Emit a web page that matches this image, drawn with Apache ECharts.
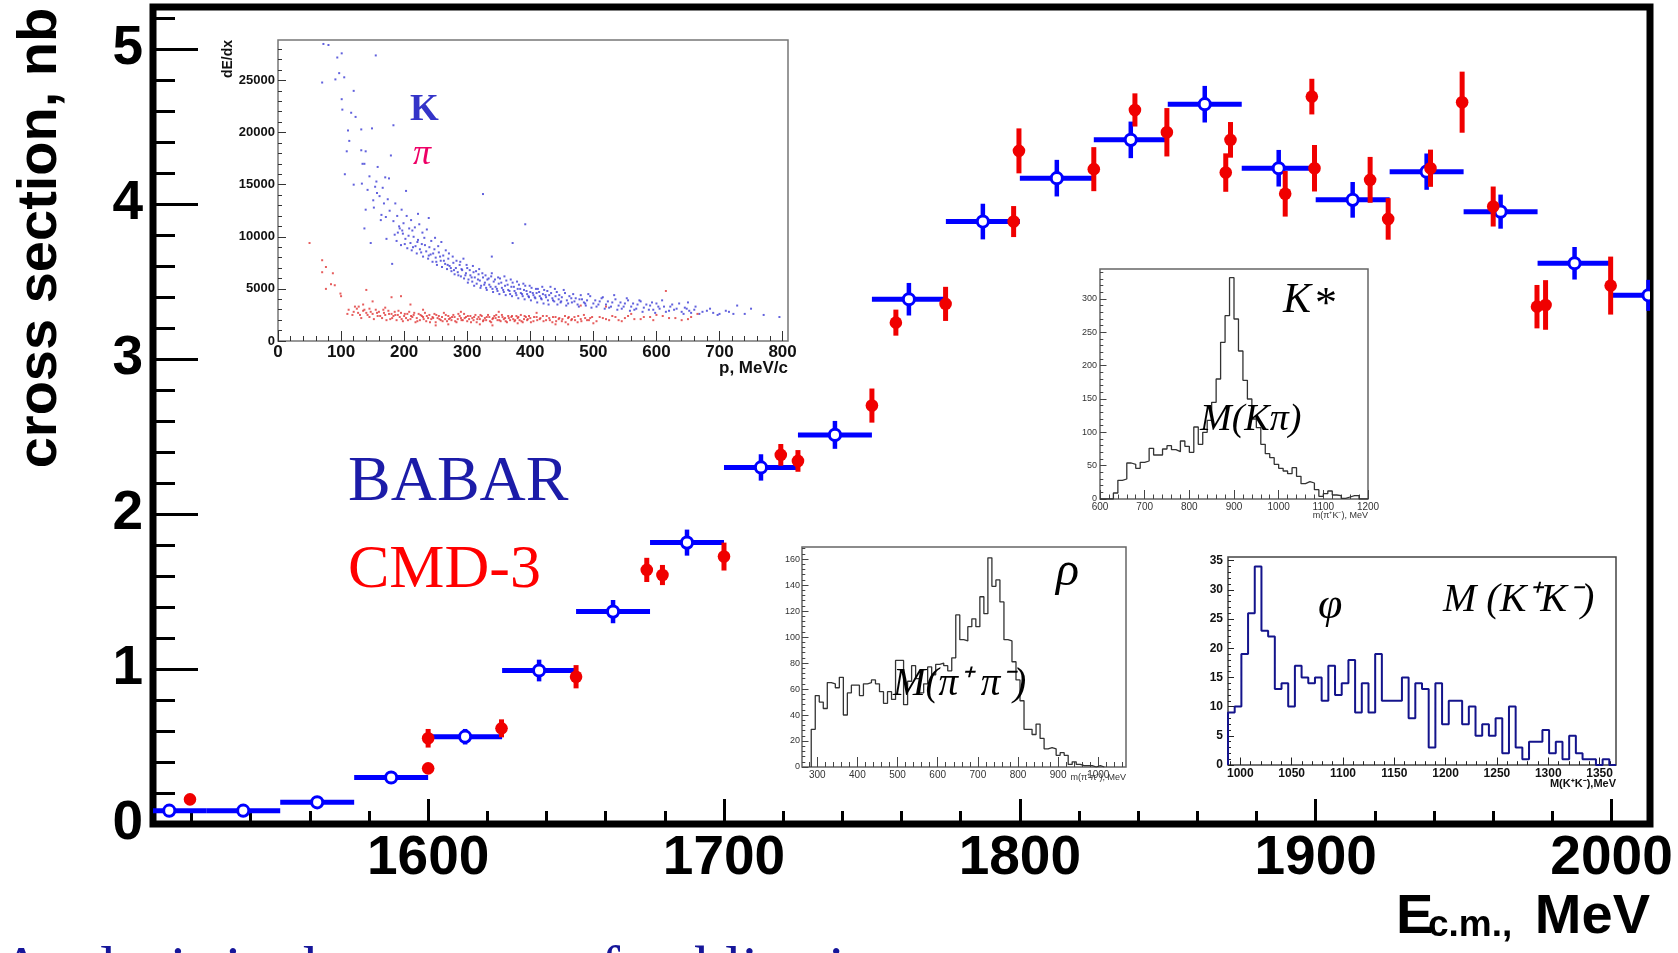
<!DOCTYPE html>
<html><head><meta charset="utf-8">
<script src="https://cdn.jsdelivr.net/npm/echarts@6/dist/echarts.min.js"></script>
<style>html,body{margin:0;padding:0;background:#fff}#c{width:1678px;height:953px}</style>
</head><body><div id="c"></div>
<script>
// ---------------- main chart data ----------------
const babarE     = [1512.5,1537.5,1562.5,1587.5,1612.5,1637.5,1662.5,1687.5,1712.5,1737.5,1762.5,1787.5,1812.5,1837.5,1862.5,1887.5,1912.5,1937.5,1962.5,1987.5,2012.5];
const babarSigma = [0.086,0.086,0.14,0.30,0.563,0.99,1.37,1.815,2.30,2.51,3.385,3.886,4.166,4.413,4.643,4.23,4.026,4.208,3.95,3.617,3.41];
const babarErr   = [0.02,0.02,0.03,0.04,0.05,0.07,0.075,0.084,0.085,0.09,0.105,0.115,0.118,0.118,0.118,0.118,0.115,0.117,0.11,0.105,0.10];
const babarHalfBin = 12.5;

const cmdE     = [1519.5,1600,1600,1624.8,1650,1673.9,1679.2,1700,1719.2,1725,1750,1758.1,1774.9,1797.9,1799.7,1825,1838.9,1849.7,1869.6,1871.2,1889.7,1898.7,1899.6,1918.4,1924.5,1938.8,1949.5,1960,1974.8,1977.7,1999.7];
const cmdSigma = [0.159,0.359,0.553,0.617,0.95,1.639,1.606,1.725,2.381,2.342,2.699,3.234,3.355,3.886,4.342,4.224,4.606,4.462,4.202,4.413,4.065,4.692,4.23,4.155,3.903,4.23,4.656,3.983,3.337,3.348,3.473];
const cmdErr   = [0.01,0.02,0.06,0.058,0.075,0.078,0.065,0.09,0.07,0.07,0.11,0.084,0.11,0.10,0.145,0.142,0.107,0.156,0.124,0.115,0.147,0.115,0.15,0.148,0.134,0.12,0.197,0.129,0.14,0.16,0.187];

const mainXTicks = [1600,1700,1800,1900,2000];
const mainYTicks = [0,1,2,3,4,5];

// ---------------- inset: dE/dx vs p ----------------
const dedxKaon = [[72,28500],[80,28400],[94,27200],[101,27600],[155,27400],[70,24800],[91,25100],[97,25700],[105,25300],[120,24000],[101,23200],[102,22200],[116,21900],[123,21500],[111,20200],[113,19200],[132,20300],[149,20400],[183,20700],[109,18200],[132,18300],[139,18200],[179,17800],[134,17000],[137,17000],[106,16000],[158,16700],[120,15000],[133,15100],[145,15800],[170,15700],[176,15600],[203,14400],[142,14500],[154,14800],[157,14200],[151,13500],[168,13200],[139,12600],[163,11600],[137,10800],[147,9400],[172,9800],[181,7400],[190,10400],[197,10600],[213,10600],[222,12200],[239,11800],[325,14100],[392,11200],[372,9400],[339,8100],
[185,10200],[188,9600],[192,11000],[195,9200],[198,10300],[202,9800],[205,8900],[208,10800],[210,9400],[212,8700],[215,10000],[218,9100],[220,8400],[222,9700],[225,8800],[228,9300],[230,8100],[232,9900],[235,8600],[238,7900],[240,9000],[242,8300],[245,7600],[248,8800],[250,8000],[252,7300],[255,8500],[258,7700],[260,7100],[262,8200],[265,7400],[268,6900],[270,7900],[272,7200],[275,6700],[278,7500],[280,6400],[282,7000],[285,6600],[288,7300],[290,6200],[292,6800],[295,6000],[298,6500],[300,7000],[302,5900],[305,6300],[308,5700],[310,6600],[312,6100],[315,5500],[318,6400],[320,5800],[322,5300],[325,6100],[328,5600],[330,5100],[332,5900],[335,5400],[338,6200],[340,5000],[342,5700],[345,5200],[348,4800],[350,5500],[352,6000],[355,5100],[358,4700],[360,5300],[362,5800],[365,4900],[368,4500],[370,5200],[372,5600],[375,4800],[378,4400],[380,5000],[382,5400],[385,4600],[388,4300],[390,4900],[392,5300],[395,4500],[398,4200],[400,4700],[402,5100],[405,4400],[408,4100],[410,4600],[412,5000],[415,4300],[418,4000],[420,4500],[422,4900],[425,4200],[428,3900],[430,4400],[432,5200],[435,4100],[438,3800],[440,4300],[442,4700],[445,4000],[448,3700],[450,4200],[455,4600],[458,3900],[460,3600],[465,4100],[468,4500],[470,3800],[475,3500],[478,4000],[480,4400],[485,3700],[488,3400],[490,3900],[495,4300],[500,3600],[505,3300],[510,3800],[515,4200],[520,3500],[525,3200],[530,3700],[535,4000],[540,3400],[545,3100],[550,3600],[555,3900],[560,3300],[565,3000],[570,3500],[575,3800],[580,3200],[590,3400],[595,3000],[600,3600],[605,3100],[612,3300],[620,2900],[625,3500],[632,3100],[640,2800],[645,3200],[650,3700],[655,2700],[660,3000],[668,2600],[680,2900],[690,2700],[700,2600],[715,2800],[728,3400],[740,2600],[795,2300],
[152,12800],[156,15300],[161,13900],[164,12100],[166,14700],[171,11900],[174,13600],[177,12500],[183,11500],[186,13200],[189,12000],[193,10800],[196,12600],[199,11300],[201,9300],[204,12000],[207,10100],[211,11600],[214,9000],[217,10900],[221,9500],[224,11200],[227,8500],[229,10400],[233,9200],[236,10700],[239,8200],[243,9600],[246,8400],[249,9900],[251,7600],[254,9100],[257,8100],[259,9500],[263,7700],[266,8700],[269,7300],[271,8400],[274,7000],[277,8100],[279,6800],[283,7700],[286,6300],[289,7600],[291,6900],[294,7900],[297,6300],[299,7300],[301,5600],[304,6800],[307,6100],[309,7200],[311,5300],[314,6700],[317,5900],[319,6900],[321,5100],[324,6500],[327,5400],[329,6300],[331,4900],[334,6000],[337,5200],[339,6500],[341,4700],[344,5900],[347,5000],[349,6100],[351,4500],[354,5600],[357,4900],[359,6200],[361,4400],[364,5400],[367,4800],[369,5900],[371,4300],[374,5200],[377,4600],[379,5700],[381,4100],[384,5000],[387,4500],[389,5500],[391,4000],[394,4800],[397,4300],[399,5300],[401,3900],[404,4600],[407,4200],[409,5000],[411,3700],[414,4700],[417,4100],[419,5200],[421,3600],[424,4400],[427,4800],[429,3500],[433,4600],[436,3900],[439,5000],[443,3500],[446,4400],[449,3800],[453,4900],[457,3400],[462,4300],[466,3700],[472,4100],[477,3300],[482,4000],[487,3600],[492,4500],[497,3200],[503,3900],[508,3500],[513,4100],[518,3100],[523,3800],[528,3300],[533,4400],[538,3000],[543,3700],[548,3300],[553,4100],[558,2900],[563,3600],[568,3100],[573,3900],[578,2800],[584,3500],[588,3000],[593,3700],[598,2700],[603,3300],[609,3900],[615,2800],[622,3300],[628,3000],[636,3600],[643,2600],[648,3100],[652,2900],[662,3300],[673,2800],[685,3100],[697,2500],[710,2900],[722,2600],[750,3100],[770,2500]];
const dedxPion = [[50,9400],[70,7750],[70,6600],[76,7100],[87,6500],[76,5000],[84,5450],[90,5350],[99,4550],[100,4300],[110,2600],[128,3300],[135,3500],[140,4900],[145,3100],[150,3800],[170,3200],[180,4200],[195,4300],[210,3500],[615,4800],[480,3400],[520,3300],
[120,2800],[125,3100],[130,2500],[135,2900],[140,2700],[145,2300],[150,2600],[155,3000],[158,2400],[160,2800],[165,2200],[168,2700],[170,2500],[175,2900],[178,2100],[180,2600],[183,2400],[185,2800],[188,2000],[190,2500],[193,2300],[195,2700],[198,1900],[200,2400],[203,2200],[205,2600],[208,2800],[210,2100],[213,2300],[215,2500],[218,1800],[220,2200],[223,2600],[225,2000],[228,2400],[230,2300],[233,2700],[235,1900],[238,2200],[240,2500],[243,2100],[245,2300],[248,2600],[250,1800],[253,2200],[255,2400],[258,2000],[260,2300],[263,2700],[265,2100],[268,1900],[270,2400],[273,2200],[275,2000],[278,2500],[280,2300],[283,1800],[285,2100],[288,2400],[290,2200],[293,2000],[295,2600],[298,2300],[300,1900],[303,2100],[305,2400],[308,2200],[310,2000],[313,2500],[315,1800],[318,2300],[320,2100],[323,2400],[325,1900],[328,2200],[330,2000],[333,2500],[335,2300],[338,1800],[340,2100],[343,2400],[345,2200],[348,2000],[350,2300],[353,1900],[355,2500],[358,2100],[360,2200],[363,1800],[365,2400],[368,2000],[370,2300],[373,2100],[375,1900],[378,2400],[380,2200],[383,2000],[385,2500],[388,1800],[390,2100],[393,2300],[395,2000],[398,2400],[400,2200],[405,1900],[410,2300],[415,2100],[420,2400],[425,2000],[430,2200],[435,1800],[440,2300],[445,2100],[450,1900],[455,2400],[460,2200],[465,2000],[470,2300],[475,1800],[480,2100],[485,2500],[490,2000],[495,2200],[500,1700],[510,2300],[520,2100],[530,2400],[540,2000],[550,2200],[560,2600],[575,2100],[590,2300],[600,2500],[620,2200],[640,2000],[655,2300],[665,2600],
[112,3000],[118,2500],[122,3300],[127,2700],[132,2200],[137,3000],[142,2500],[147,2800],[152,2100],[157,2700],[162,2400],[167,3000],[172,2000],[176,2600],[181,2200],[186,2500],[191,2900],[196,2100],[201,2600],[206,2000],[211,2400],[216,2700],[221,1900],[226,2500],[231,2100],[236,2400],[241,1800],[246,2200],[251,2500],[256,2100],[261,1900],[266,2500],[271,2100],[276,2300],[281,1900],[286,2600],[291,2000],[296,2200],[301,2400],[306,1800],[311,2300],[316,2100],[321,2500],[326,2000],[331,2300],[336,1900],[341,2200],[346,2500],[351,2000],[356,2300],[361,1900],[366,2200],[371,2400],[376,2000],[381,2300],[386,1900],[391,2400],[396,2100],[401,1800],[406,2300],[411,2000],[416,2200],[421,1900],[426,2400],[431,2000],[436,2300],[441,1900],[446,2200],[451,2100],[456,1800],[461,2300],[466,2100],[471,2000],[476,2400],[481,1900],[487,2200],[493,2000],[498,2300],[505,1900],[515,2200],[525,2000],[535,2300],[545,1900],[555,2400],[565,2100],[580,2300],[595,2000],[610,2400],[630,2200],[650,2100],[270,1600],[320,1600],[380,1700],[440,1600],[230,3000],[290,2800],[350,2800],[410,2700],[250,1500],[340,1500],[460,1600]];
const dedxXTicks = [0,100,200,300,400,500,600,700,800];
const dedxYTicks = [0,5000,10000,15000,20000,25000];

// ---------------- inset: K* (m(pi K)) ----------------
const kstarStart = 600, kstarBin = 10;
const kstarCounts = [0,0,0,9,28,30,54,52,46,55, 57,76,66,66,75,80,74,71,87,79, 70,108,82,100,118,145,180,235,275,332, 270,222,178,150,120,107,82,68,62,52, 46,42,38,47,34,23,26,24,14,4, 8,12,6,5,1,3,5,5,0,0];
const kstarXTicks = [600,700,800,900,1000,1100,1200];
const kstarYTicks = [0,50,100,150,200,250,300];

// ---------------- inset: rho (m(pi+ pi-)) ----------------
const rhoStart = 285, rhoBin = 10;
const rhoCounts = [29,55,50,45,65,64,61,69,40,57, 63,63,55,64,65,67,64,58,49,58, 52,82,82,48,66,78,68,57,64,77, 71,79,80,78,74,84,117,98,97,108, 114,108,131,118,161,139,144,127,98,97, 81,67,51,29,29,25,33,22,14,15, 14,9,11,9,2,4,2,1,1,1, 0,1,0];
const rhoXTicks = [300,400,500,600,700,800,900,1000];
const rhoYTicks = [0,20,40,60,80,100,120,140,160];

// ---------------- inset: phi (M(K+K-)) ----------------
const phiStart = 988, phiEnd = 1366;
const phiCounts = [9,10,19,26,34,23,22,13,14,10, 17,15,14,15,11,17,12,14,18,9, 14,9,19,11,11,11,15,8,14,13, 3,14,7,11,11,7,10,5,7,5, 8,2,10,3,1,4,4,6,2,4, 1,5,2,1,1,0,1,0];
const phiXTicks = [1000,1050,1100,1150,1200,1250,1300,1350];
const phiYTicks = [0,5,10,15,20,25,30,35];

// ---------------- helpers ----------------
function range(a, b, s) { const r = []; for (let v = a; v <= b + 1e-9; v += s) r.push(Math.round(v * 1000) / 1000); return r; }
function minors(a, b, s, majors) { return range(a, b, s).filter(v => !majors.some(m => Math.abs(m - v) < 1e-6)); }
function stepLine(start, width, counts) {
  const pts = [[start, 0]];
  counts.forEach((c, i) => { pts.push([start + i * width, c]); pts.push([start + (i + 1) * width, c]); });
  pts.push([start + counts.length * width, 0]);
  return pts;
}
const fmt = v => String(v);
function axis(kind, grid, min, max, ticks, len, color, width, label) {
  return {
    type: 'value', gridIndex: grid, min: min, max: max,
    position: kind === 'x' ? 'bottom' : 'left', offset: 0,
    axisLine: { show: false }, splitLine: { show: false }, minorTick: { show: false }, splitArea: { show: false },
    axisTick: { show: true, inside: true, length: len, customValues: ticks, lineStyle: { color: color, width: width } },
    axisLabel: label ? Object.assign({ show: true, customValues: ticks, formatter: fmt }, label) : { show: false },
    axisPointer: { show: false }, silent: true
  };
}
const SANS = '"Liberation Sans", Arial, sans-serif';
const SERIF = '"Liberation Serif", "Times New Roman", serif';

const mainLabel = { fontSize: 55, fontWeight: 'bold', fontFamily: SANS, color: '#000' };

const xAxes = [
  axis('x', 0, 1507, 2013, mainXTicks, 25, '#000', 3, Object.assign({ margin: 7 }, mainLabel)),
  axis('x', 0, 1507, 2013, minors(1520, 2000, 20, mainXTicks), 13, '#000', 3, null),
  axis('x', 1, 0, 808.6, dedxXTicks, 10, '#333', 1, { margin: 3, fontSize: 17, fontWeight: 'bold', fontFamily: SANS, color: '#111' }),
  axis('x', 1, 0, 808.6, minors(0, 800, 20, dedxXTicks), 5, '#333', 1, null),
  axis('x', 2, 600, 1200, kstarXTicks, 9, '#444', 1, { margin: 3, fontSize: 10, fontFamily: SANS, color: '#333' }),
  axis('x', 2, 600, 1200, minors(600, 1200, 20, kstarXTicks), 4.5, '#444', 1, null),
  axis('x', 3, 262, 1069, rhoXTicks, 10, '#444', 1, { margin: 3, fontSize: 10, fontFamily: SANS, color: '#333' }),
  axis('x', 3, 262, 1069, minors(280, 1060, 20, rhoXTicks), 5, '#444', 1, null),
  axis('x', 4, phiStart, phiEnd, phiXTicks, 7.5, '#222', 1, { margin: 3, fontSize: 12, fontWeight: 'bold', fontFamily: SANS, color: '#111' }),
  axis('x', 4, phiStart, phiEnd, minors(990, 1360, 10, phiXTicks), 3.8, '#222', 1, null)
];
const yAxes = [
  axis('y', 0, 0, 5.27, mainYTicks, 45, '#000', 3, Object.assign({ margin: 10 }, mainLabel)),
  axis('y', 0, 0, 5.27, minors(0, 5.2, 0.2, mainYTicks), 22, '#000', 3, null),
  axis('y', 1, 0, 28880, dedxYTicks, 8, '#333', 1, { margin: 3, fontSize: 13, fontWeight: 'bold', fontFamily: SANS, color: '#111' }),
  axis('y', 1, 0, 28880, minors(0, 28000, 1000, dedxYTicks), 4, '#333', 1, null),
  axis('y', 2, 0, 345, kstarYTicks, 6.5, '#444', 1, { margin: 3, fontSize: 9, fontFamily: SANS, color: '#333' }),
  axis('y', 2, 0, 345, minors(0, 340, 10, kstarYTicks), 3.3, '#444', 1, null),
  axis('y', 3, 0, 169.3, rhoYTicks, 6.5, '#444', 1, { margin: 2, fontSize: 9, fontFamily: SANS, color: '#333' }),
  axis('y', 3, 0, 169.3, minors(0, 168, 4, rhoYTicks), 3.3, '#444', 1, null),
  axis('y', 4, 0, 35.63, phiYTicks, 6, '#222', 1, { margin: 5, fontSize: 12, fontWeight: 'bold', fontFamily: SANS, color: '#111' }),
  axis('y', 4, 0, 35.63, minors(0, 35, 1, phiYTicks), 3, '#222', 1, null)
];

const BLUE = '#0000ff', RED = '#f00000';

function babarRender(params, api) {
  const x = api.value(0), y = api.value(1), e = api.value(2);
  const c = api.coord([x, y]);
  const l = api.coord([x - babarHalfBin, y]), r = api.coord([x + babarHalfBin, y]);
  const t = api.coord([x, y + e]), b = api.coord([x, y - e]);
  return { type: 'group', children: [
    { type: 'line', shape: { x1: l[0], y1: c[1], x2: r[0], y2: c[1] }, style: { stroke: BLUE, lineWidth: 5 } },
    { type: 'line', shape: { x1: c[0], y1: t[1], x2: c[0], y2: b[1] }, style: { stroke: BLUE, lineWidth: 4.5 } },
    { type: 'circle', shape: { cx: c[0], cy: c[1], r: 5.6 }, style: { fill: '#fff', stroke: BLUE, lineWidth: 3 } }
  ] };
}
function cmdRender(params, api) {
  const x = api.value(0), y = api.value(1), e = api.value(2);
  const c = api.coord([x, y]);
  const t = api.coord([x, y + e]), b = api.coord([x, y - e]);
  return { type: 'group', children: [
    { type: 'line', shape: { x1: c[0], y1: t[1], x2: c[0], y2: b[1] }, style: { stroke: RED, lineWidth: 5 } },
    { type: 'circle', shape: { cx: c[0], cy: c[1], r: 6.3 }, style: { fill: RED, stroke: null } }
  ] };
}

function T(text, x, y, font, fill, align, rot) {
  return { type: 'text', x: x, y: y, rotation: rot || 0, silent: true, z: 100,
    style: { text: text, font: font, fill: fill, align: align || 'left', verticalAlign: 'middle' } };
}

const graphics = [
  T('cross section, nb', 41, 238, 'bold 56px ' + SANS, '#000', 'center', Math.PI / 2),
  T('E', 1396, 917.6, 'bold 56px ' + SANS, '#000', 'left'),
  T('c.m.,', 1428, 926, 'bold 37px ' + SANS, '#000', 'left'),
  T('MeV', 1650, 917.6, 'bold 56px ' + SANS, '#000', 'right'),
  T('BABAR', 348, 483.4, '64px ' + SERIF, '#1c1ca8', 'left'),
  T('CMD-3', 348, 571, '62px ' + SERIF, '#ff0000', 'left'),
  T('K', 410, 110, 'bold 37px ' + SERIF, '#3434c8', 'left'),
  T('\u03c0', 413, 154.5, 'italic 36px ' + SERIF, '#ee0066', 'left'),
  T('dE/dx', 228, 40, 'bold 14px ' + SANS, '#111', 'right', Math.PI / 2),
  T('p, MeV/c', 788, 368.5, 'bold 17px ' + SANS, '#111', 'right'),
  T('K', 1283, 300.8, 'italic 42px ' + SERIF, '#000', 'left'),
  T('*', 1315, 305, '44px ' + SERIF, '#000', 'left'),
  T('M(K\u03c0)', 1200, 420.2, 'italic 38px ' + SERIF, '#000', 'left'),
  T('m(\u03c0\u207aK\u207b), MeV', 1368, 516, '9px ' + SANS, '#333', 'right'),
  T('\u03c1', 1056, 572.8, 'italic 48px ' + SERIF, '#000', 'left'),
  T('M(\u03c0\u207a \u03c0\u207b)', 893, 684.8, 'italic 39px ' + SERIF, '#000', 'left'),
  T('m(\u03c0\u207a\u03c0\u207b), MeV', 1126, 778, '9px ' + SANS, '#333', 'right'),
  T('\u03c6', 1318, 606, 'italic 44px ' + SERIF, '#000', 'left'),
  T('M (K\u207aK\u207b)', 1443, 600.5, 'italic 40px ' + SERIF, '#000', 'left'),
  T('M(K\u207aK\u207b),MeV', 1616, 783.5, 'bold 11px ' + SANS, '#111', 'right'),
  T('Analysis in the process of publication', 0, 971, '60px ' + SERIF, '#16169a', 'left')
];

const option = {
  animation: false,
  backgroundColor: '#fff',
  grid: [
    { left: 153, right: 28, top: 7, bottom: 129, show: true, borderColor: '#000', borderWidth: 7, backgroundColor: 'transparent', containLabel: false },
    { left: 278, top: 40, width: 510, height: 301, show: true, borderColor: '#777', borderWidth: 1.5, backgroundColor: '#fff' },
    { left: 1100, top: 269, width: 268, height: 230, show: true, borderColor: '#666', borderWidth: 1.5, backgroundColor: '#fff' },
    { left: 802, top: 547, width: 324, height: 220, show: true, borderColor: '#666', borderWidth: 1.5, backgroundColor: '#fff' },
    { left: 1228, top: 557, width: 388, height: 208, show: true, borderColor: '#444', borderWidth: 1.5, backgroundColor: '#fff' }
  ],
  xAxis: xAxes,
  yAxis: yAxes,
  series: [
    { type: 'custom', name: 'BABAR', xAxisIndex: 0, yAxisIndex: 0, clip: true, silent: true, z: 5,
      renderItem: babarRender, data: babarE.map((e, i) => [e, babarSigma[i], babarErr[i]]) },
    { type: 'custom', name: 'CMD-3', xAxisIndex: 0, yAxisIndex: 0, clip: true, silent: true, z: 6,
      renderItem: cmdRender, data: cmdE.map((e, i) => [e, cmdSigma[i], cmdErr[i]]) },
    { type: 'scatter', xAxisIndex: 2, yAxisIndex: 2, symbol: 'rect', symbolSize: 2, silent: true, large: false,
      itemStyle: { color: '#3a3ad4' }, data: dedxKaon },
    { type: 'scatter', xAxisIndex: 2, yAxisIndex: 2, symbol: 'rect', symbolSize: 2, silent: true, large: false,
      itemStyle: { color: '#e03434' }, data: dedxPion },
    { type: 'line', xAxisIndex: 4, yAxisIndex: 4, showSymbol: false, symbol: 'none', silent: true,
      lineStyle: { color: '#333', width: 1.3 }, data: stepLine(kstarStart, kstarBin, kstarCounts) },
    { type: 'line', xAxisIndex: 6, yAxisIndex: 6, showSymbol: false, symbol: 'none', silent: true, clip: true,
      lineStyle: { color: '#333', width: 1.3 }, data: stepLine(rhoStart, rhoBin, rhoCounts) },
    { type: 'line', xAxisIndex: 8, yAxisIndex: 8, showSymbol: false, symbol: 'none', silent: true,
      lineStyle: { color: '#14148c', width: 2 }, data: stepLine(phiStart, (phiEnd - phiStart) / phiCounts.length, phiCounts) }
  ],
  graphic: graphics
};

const chart = echarts.init(document.getElementById('c'), null, { renderer: 'canvas' });
chart.setOption(option);
</script></body></html>
